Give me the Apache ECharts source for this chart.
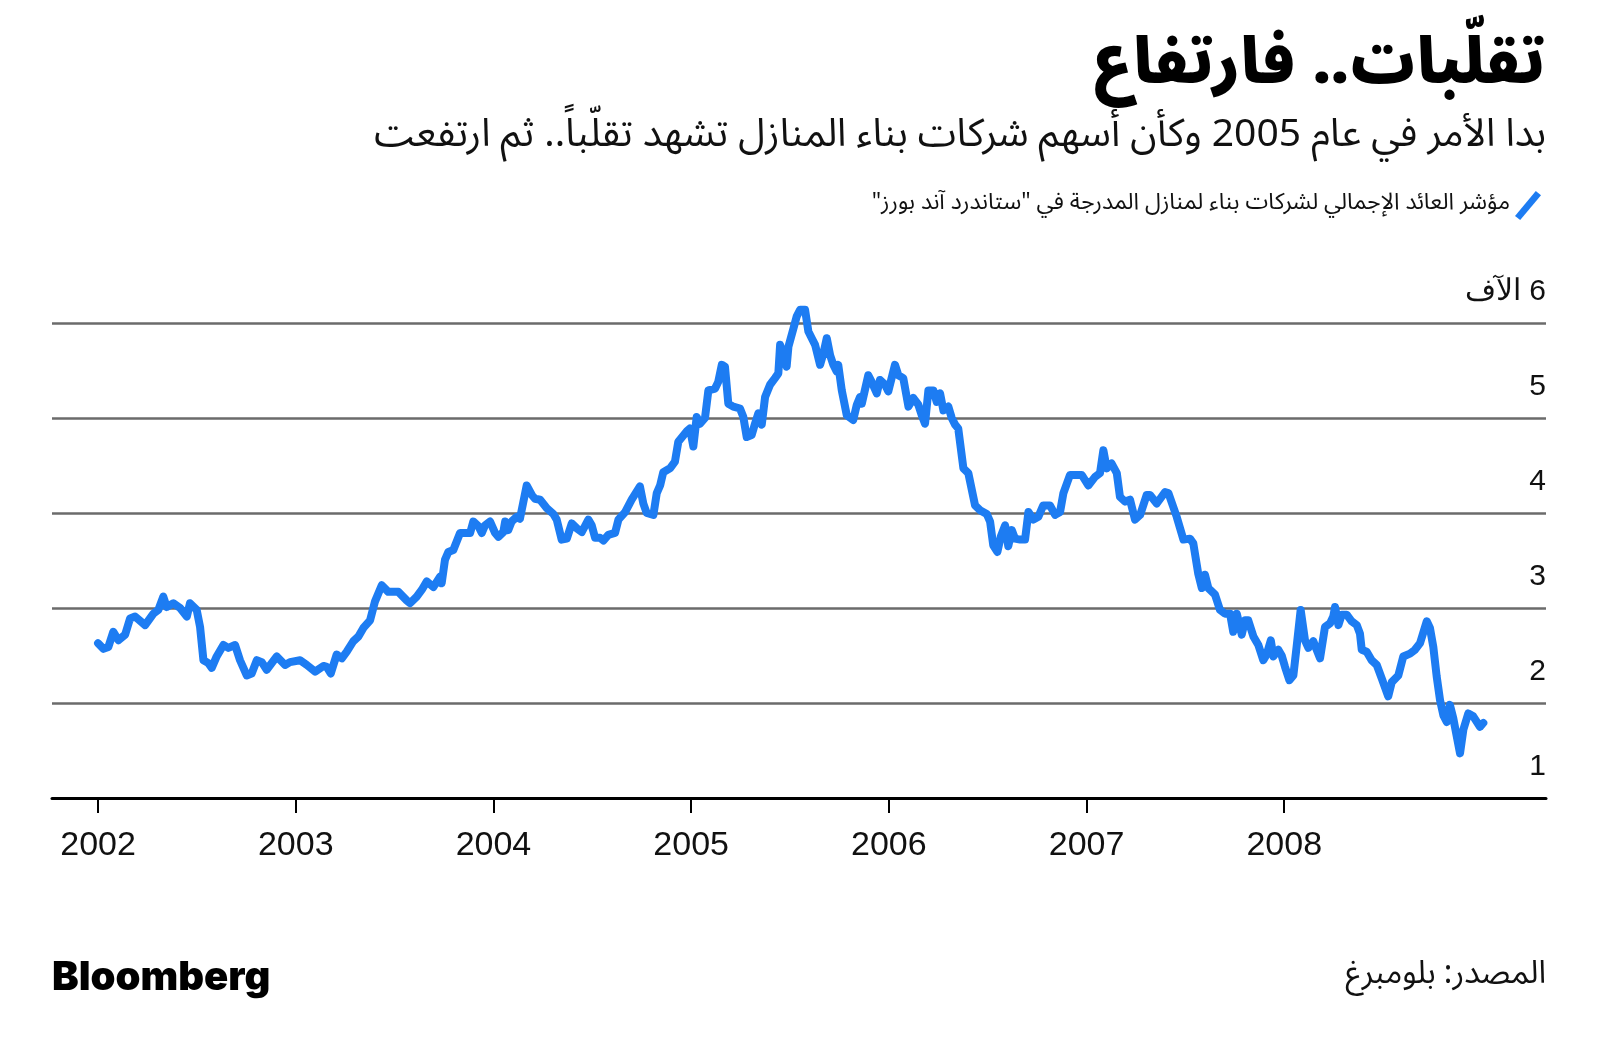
<!DOCTYPE html>
<html>
<head>
<meta charset="utf-8">
<script src="https://cdn.jsdelivr.net/npm/echarts@6/dist/echarts.min.js"></script>
<style>
html,body{margin:0;padding:0;background:#fff;}
#c{width:1600px;height:1057px;}
</style>
</head>
<body>
<div id="c" dir="rtl"></div>
<script>
// ---- DATA ----
const titleText = 'تقلّبات.. فارتفاع';
const subtitleText = 'بدا الأمر في عام 2005 وكأن أسهم شركات بناء المنازل تشهد تقلّباً.. ثم ارتفعت';
const seriesName = 'مؤشر العائد الإجمالي لشركات بناء لمنازل المدرجة في "ستاندرد آند بورز"';
const sourceText = 'المصدر: بلومبرغ';
const logoText = 'Bloomberg';

const years = [2002, 2003, 2004, 2005, 2006, 2007, 2008];
const yearLabels = ['2002', '2003', '2004', '2005', '2006', '2007', '2008'];
const yTicks = [1, 2, 3, 4, 5, 6];
const yTickLabels = ['1', '2', '3', '4', '5', '6 الآف'];

// time in decimal years
const t = [
2002.000,2002.027,2002.052,2002.077,2002.103,2002.137,2002.162,2002.187,2002.238,2002.280,
2002.305,2002.330,2002.347,2002.381,2002.415,2002.449,2002.465,2002.499,2002.516,2002.533,
2002.558,2002.575,2002.600,2002.634,2002.659,2002.693,2002.718,2002.752,2002.777,2002.803,
2002.828,2002.853,2002.904,2002.946,2002.971,2003.022,2003.056,2003.098,2003.140,2003.157,
2003.177,2003.207,2003.233,2003.258,2003.291,2003.317,2003.342,2003.376,2003.401,2003.435,
2003.468,2003.519,2003.561,2003.578,2003.612,2003.637,2003.663,2003.696,2003.730,2003.738,
2003.755,2003.772,2003.797,2003.831,2003.882,2003.898,2003.924,2003.941,2003.957,2003.983,
2004.008,2004.025,2004.050,2004.059,2004.075,2004.092,2004.118,2004.134,2004.168,2004.194,
2004.210,2004.236,2004.270,2004.303,2004.320,2004.345,2004.371,2004.396,2004.421,2004.447,
2004.480,2004.497,2004.514,2004.539,2004.556,2004.581,2004.615,2004.632,2004.666,2004.699,
2004.741,2004.758,2004.775,2004.809,2004.826,2004.843,2004.859,2004.893,2004.918,2004.935,
2004.978,2004.994,2005.011,2005.028,2005.045,2005.070,2005.087,2005.121,2005.137,2005.155,
2005.171,2005.188,2005.213,2005.247,2005.264,2005.281,2005.306,2005.323,2005.340,2005.357,
2005.374,2005.399,2005.424,2005.441,2005.450,2005.466,2005.483,2005.492,2005.517,2005.534,
2005.551,2005.576,2005.593,2005.610,2005.627,2005.652,2005.669,2005.686,2005.703,2005.719,
2005.736,2005.744,2005.762,2005.787,2005.820,2005.838,2005.854,2005.863,2005.896,2005.913,
2005.939,2005.955,2005.981,2005.997,2006.031,2006.048,2006.073,2006.099,2006.124,2006.149,
2006.166,2006.183,2006.200,2006.225,2006.242,2006.259,2006.276,2006.301,2006.318,2006.335,
2006.351,2006.377,2006.402,2006.436,2006.461,2006.495,2006.512,2006.528,2006.549,2006.566,
2006.588,2006.604,2006.622,2006.638,2006.664,2006.689,2006.706,2006.731,2006.756,2006.781,
2006.815,2006.841,2006.866,2006.883,2006.916,2006.976,2007.009,2007.043,2007.068,2007.085,
2007.102,2007.127,2007.153,2007.169,2007.195,2007.220,2007.245,2007.271,2007.304,2007.321,
2007.355,2007.397,2007.414,2007.456,2007.490,2007.523,2007.540,2007.565,2007.583,2007.599,
2007.616,2007.650,2007.675,2007.700,2007.726,2007.742,2007.760,2007.785,2007.802,2007.818,
2007.844,2007.869,2007.894,2007.911,2007.932,2007.945,2007.970,2007.987,2008.004,2008.026,
2008.046,2008.063,2008.083,2008.105,2008.122,2008.147,2008.181,2008.206,2008.232,2008.248,
2008.257,2008.274,2008.291,2008.316,2008.341,2008.367,2008.383,2008.392,2008.417,2008.442,
2008.468,2008.493,2008.526,2008.544,2008.577,2008.602,2008.636,2008.661,2008.687,2008.721,
2008.737,2008.754,2008.771,2008.788,2008.805,2008.822,2008.838,2008.855,2008.889,2008.906,
2008.931,2008.956,2008.990,2009.007
];
// index value, thousands
const v = [
2.63,2.57,2.59,2.75,2.66,2.72,2.89,2.91,2.82,2.94,
2.98,3.12,3.01,3.05,3.00,2.91,3.05,2.98,2.80,2.45,
2.42,2.37,2.49,2.61,2.58,2.61,2.45,2.29,2.31,2.45,
2.43,2.35,2.49,2.40,2.43,2.45,2.40,2.33,2.39,2.38,
2.31,2.51,2.47,2.54,2.65,2.70,2.79,2.87,3.07,3.24,
3.17,3.17,3.08,3.05,3.12,3.19,3.28,3.22,3.33,3.26,
3.51,3.59,3.61,3.79,3.79,3.91,3.86,3.79,3.87,3.91,
3.79,3.75,3.80,3.91,3.82,3.91,3.96,3.94,4.29,4.19,
4.15,4.14,4.05,3.99,3.93,3.72,3.73,3.89,3.84,3.80,
3.93,3.87,3.74,3.74,3.71,3.77,3.79,3.93,4.01,4.14,
4.28,4.10,4.00,3.98,4.21,4.29,4.43,4.47,4.54,4.75,
4.86,4.89,4.70,5.01,4.94,5.00,5.29,5.31,5.38,5.56,
5.54,5.15,5.12,5.10,5.01,4.80,4.82,4.94,5.05,4.93,
5.22,5.35,5.42,5.47,5.77,5.66,5.54,5.75,5.94,6.07,
6.14,6.14,5.91,5.84,5.77,5.56,5.68,5.84,5.66,5.56,
5.49,5.56,5.29,5.03,4.98,5.14,5.22,5.15,5.45,5.38,
5.26,5.40,5.35,5.28,5.56,5.45,5.42,5.12,5.21,5.14,
5.03,4.94,5.29,5.29,5.17,5.26,5.08,5.12,5.00,4.93,
4.89,4.47,4.42,4.08,4.03,3.99,3.91,3.66,3.59,3.75,
3.87,3.65,3.82,3.73,3.72,3.72,4.01,3.93,3.96,4.08,
4.08,3.98,4.01,4.21,4.40,4.40,4.29,4.38,4.42,4.66,
4.47,4.52,4.42,4.17,4.12,4.14,3.93,3.98,4.19,4.19,
4.10,4.22,4.21,3.96,3.72,3.73,3.68,3.36,3.21,3.35,
3.21,3.14,2.98,2.94,2.94,2.75,2.94,2.72,2.87,2.87,
2.70,2.61,2.45,2.51,2.66,2.49,2.56,2.50,2.38,2.24,
2.29,2.60,2.98,2.66,2.58,2.65,2.47,2.80,2.84,2.91,
3.01,2.82,2.93,2.93,2.86,2.82,2.73,2.56,2.54,2.45,
2.40,2.26,2.07,2.22,2.29,2.49,2.52,2.56,2.63,2.86,
2.79,2.59,2.28,2.03,1.87,1.80,1.98,1.84,1.47,1.72,
1.89,1.86,1.75,1.79
];

// ---- CHART ----
const AR = "'Noto Sans Arabic','DejaVu Sans Condensed','DejaVu Sans',sans-serif";
const LAT = "'Liberation Sans','Noto Sans',sans-serif";
const BLUE = '#1d7cf2';

const chart = echarts.init(document.getElementById('c'), null, {renderer: 'canvas'});
const pts = t.map((x, i) => [x, v[i]]);

chart.setOption({
  animation: false,
  backgroundColor: '#ffffff',
  grid: {left: 52, right: 54, top: 323, bottom: 259, containLabel: false},
  legend: {
    data: [seriesName],
    right: 54, top: 186,
    align: 'right',
    icon: 'path://M0,24 L20,0 L25,4 L5,28 Z',
    itemWidth: 26, itemHeight: 30,
    itemGap: 10,
    textStyle: {fontFamily: AR, fontSize: 23, color: '#111'},
    selectedMode: false
  },
  xAxis: {
    type: 'value',
    min: 2001.767, max: 2009.324,
    axisLine: {show: true, onZero: false, lineStyle: {color: '#000', width: 3}},
    axisTick: {show: true, customValues: years, length: 15, lineStyle: {color: '#000', width: 2}},
    axisLabel: {show: true, customValues: years, margin: 31, fontFamily: LAT, fontSize: 34, color: '#111',
      formatter: (val) => yearLabels[years.indexOf(Math.round(val))]},
    splitLine: {show: false}
  },
  yAxis: {
    type: 'value',
    position: 'right',
    min: 1, max: 6, interval: 1,
    axisLine: {show: false},
    axisTick: {show: false},
    splitLine: {show: true, lineStyle: {color: '#6b6b6b', width: 2.5}},
    axisLabel: {
      inside: true, margin: 0, align: 'right', verticalAlign: 'bottom',
      padding: [0, 0, 16, 0],
      fontFamily: LAT, fontSize: 30, color: '#111',
      formatter: (val) => yTickLabels[yTicks.indexOf(Math.round(val))]
    }
  },
  series: [{
    name: seriesName,
    type: 'line',
    data: pts,
    showSymbol: false,
    clip: false,
    color: BLUE,
    lineStyle: {color: BLUE, width: 8, cap: 'round', join: 'round'},
    z: 5
  }],
  graphic: [
    {type: 'text', x: 1546, y: 74, style: {text: titleText, align: 'right', verticalAlign: 'middle',
      font: "900 63px " + AR, fill: '#000'}},
    {type: 'text', x: 1546, y: 140, style: {text: subtitleText, align: 'right', verticalAlign: 'middle',
      font: "39px " + AR, fill: '#111'}},
    {type: 'text', x: 52, y: 978, style: {text: logoText, align: 'left', verticalAlign: 'middle',
      font: "900 40px 'Inter','Liberation Sans',sans-serif", fill: '#000'}},
    {type: 'text', x: 1546, y: 978, style: {text: sourceText, align: 'right', verticalAlign: 'middle',
      font: "32px " + AR, fill: '#111'}}
  ]
});
</script>
</body>
</html>
